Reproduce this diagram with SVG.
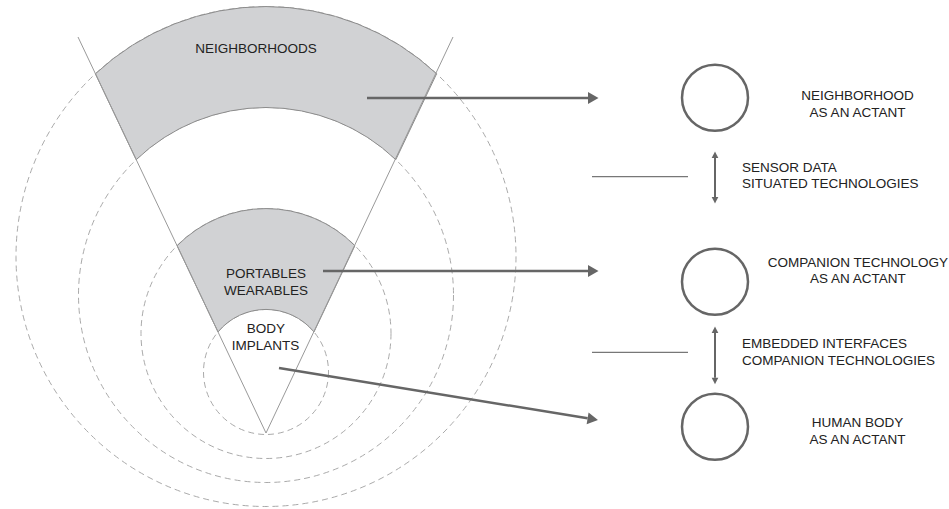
<svg xmlns="http://www.w3.org/2000/svg" width="949" height="509" viewBox="0 0 949 509">
<defs>
<style>
.dash{fill:none;stroke:#aaaaaa;stroke-width:1;stroke-dasharray:6 4}
.band{fill:#d1d2d4;stroke:#8c8c8c;stroke-width:1}
.wedge{fill:none;stroke:#999999;stroke-width:1}
.lbl{font-family:"Liberation Sans",Arial,sans-serif;font-size:13.5px;fill:#222222}
.mid{text-anchor:middle}
.conn{fill:none;stroke:#666666;stroke-width:2.5}
.dbl{fill:none;stroke:#666666;stroke-width:2}
.sep{fill:none;stroke:#777777;stroke-width:1.2}
.actant{fill:#ffffff;stroke:#666666;stroke-width:2.5}
</style>
<marker id="arrow" markerUnits="userSpaceOnUse" viewBox="0 -6 11 12" refX="0" refY="0" markerWidth="11" markerHeight="12" orient="auto" overflow="visible">
<path d="M0,-6 L10.5,0 L0,6 Z" fill="#666666"/>
</marker>
<marker id="small" markerUnits="userSpaceOnUse" viewBox="0 -3.5 7 7" refX="0" refY="0" markerWidth="7" markerHeight="7" orient="auto-start-reverse" overflow="visible">
<path d="M0,-3.3 L6.5,0 L0,3.3 Z" fill="#666666"/>
</marker>
</defs>
<rect width="949" height="509" fill="#ffffff"/>

<g id="rings">
<circle class="dash" cx="266" cy="372" r="62.5"/>
<circle class="dash" cx="266" cy="333.5" r="125"/>
<circle class="dash" cx="266" cy="295" r="187.5"/>
<circle class="dash" cx="266" cy="256.5" r="250"/>
</g>

<g id="neighborhoods">
<path class="band" d="M95.4,73.8 A250,250 0 0 1 436.6,73.8 L395.8,159.7 A187.5,187.5 0 0 0 136.2,159.7 Z"/>
<text class="lbl mid" x="256" y="53.3">NEIGHBORHOODS</text>
</g>

<g id="portables">
<path class="band" d="M177.1,245.7 A125,125 0 0 1 354.9,245.7 L314,331.9 A62.5,62.5 0 0 0 218,331.9 Z"/>
<text class="lbl mid" x="266" y="278.3">PORTABLES</text>
<text class="lbl mid" x="266" y="295">WEARABLES</text>
</g>

<g id="body-implants">
<text class="lbl mid" x="266" y="333.3">BODY</text>
<text class="lbl mid" x="265.5" y="350">IMPLANTS</text>
</g>

<g id="wedge">
<path class="wedge" d="M78,37 L266,433 L453,37"/>
</g>

<g id="neighborhood-actant">
<circle class="actant" cx="715" cy="97.7" r="33"/>
<text class="lbl mid" x="857.5" y="100">NEIGHBORHOOD</text>
<text class="lbl mid" x="857.5" y="116.7">AS AN ACTANT</text>
</g>

<g id="companion-actant">
<circle class="actant" cx="715" cy="281.7" r="33"/>
<text class="lbl mid" x="857.8" y="266.7">COMPANION TECHNOLOGY</text>
<text class="lbl mid" x="857.8" y="282.8">AS AN ACTANT</text>
</g>

<g id="human-actant">
<circle class="actant" cx="715" cy="426.7" r="33"/>
<text class="lbl mid" x="857.5" y="427.3">HUMAN BODY</text>
<text class="lbl mid" x="857.5" y="444.3">AS AN ACTANT</text>
</g>

<g id="sensor-label">
<text class="lbl" x="742" y="171.7">SENSOR DATA</text>
<text class="lbl" x="742" y="188.3">SITUATED TECHNOLOGIES</text>
</g>

<g id="embedded-label">
<text class="lbl" x="742" y="348.3">EMBEDDED INTERFACES</text>
<text class="lbl" x="742" y="364.6">COMPANION TECHNOLOGIES</text>
</g>

<g id="connectors">
<line class="conn" x1="367" y1="98" x2="588" y2="98" marker-end="url(#arrow)"/>
<line class="conn" x1="323" y1="271" x2="588" y2="271" marker-end="url(#arrow)"/>
<line class="conn" x1="279" y1="368" x2="587.6" y2="418.3" marker-end="url(#arrow)"/>
<line class="dbl" x1="715" y1="158" x2="715" y2="197" marker-start="url(#small)" marker-end="url(#small)"/>
<line class="dbl" x1="715" y1="333" x2="715" y2="377.7" marker-start="url(#small)" marker-end="url(#small)"/>
<line class="sep" x1="592" y1="176.7" x2="688" y2="176.7"/>
<line class="sep" x1="592" y1="352.3" x2="688" y2="352.3"/>
</g>
</svg>
